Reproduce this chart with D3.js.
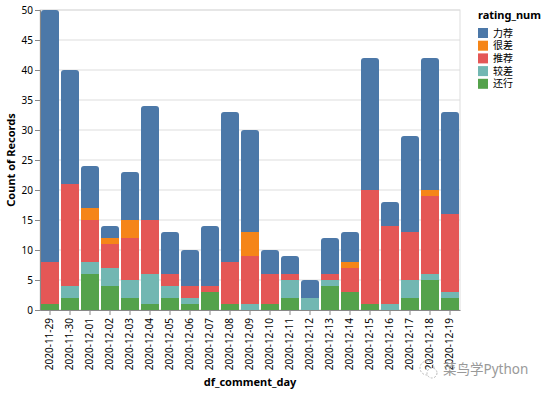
<!DOCTYPE html>
<html>
  <head>
    <meta charset="utf-8">
    <script src="https://d3js.org/d3.v7.min.js"></script>
    <style>
      body { margin: 0; background: #fff; }
      text { font-family: "Noto Sans", "Noto Sans CJK SC", sans-serif; }
    </style>
  </head>
  <body>
    <div id="chart"></div>
    <script>
      // data
      const days = ["2020-11-29","2020-11-30","2020-12-01","2020-12-02","2020-12-03","2020-12-04",
        "2020-12-05","2020-12-06","2020-12-07","2020-12-08","2020-12-09","2020-12-10","2020-12-11",
        "2020-12-12","2020-12-13","2020-12-14","2020-12-15","2020-12-16","2020-12-17","2020-12-18","2020-12-19"];
      const legendOrder = ["力荐", "很差", "推荐", "较差", "还行"];
      const stackOrder = ["还行", "较差", "推荐", "很差", "力荐"]; // bottom to top
      const huanxing = [1,2,6,4,2,1,2,1,3,1,0,1,2,0,4,3,1,0,2,5,2];
      const jiaocha  = [0,2,2,3,3,5,2,1,0,0,1,0,3,2,1,0,0,1,3,1,1];
      const tuijian  = [7,17,7,4,7,9,2,2,1,7,8,5,1,0,1,4,19,13,8,13,13];
      const hencha   = [0,0,2,1,3,0,0,0,0,0,4,0,0,0,0,1,0,0,0,1,0];
      const lijian   = [42,19,7,2,8,19,7,6,10,25,17,4,3,3,6,5,22,4,16,22,17];
      const yTicks = [0,5,10,15,20,25,30,35,40,45,50];

      const seriesValues = {"还行": huanxing, "较差": jiaocha, "推荐": tuijian, "很差": hencha, "力荐": lijian};
      const colors = {"力荐": "#4c78a8", "很差": "#f58518", "推荐": "#e45756", "较差": "#72b7b2", "还行": "#54a24b"};

      const rows = days.map((d, i) => {
        const r = {day: d};
        stackOrder.forEach(k => r[k] = seriesValues[k][i]);
        return r;
      });

      const margin = {top: 10, right: 86, bottom: 83, left: 40},
          width = 546 - margin.left - margin.right,
          height = 393 - margin.top - margin.bottom;

      const svg = d3.select("#chart")
        .append("svg")
          .attr("width", 546)
          .attr("height", 393)
        .append("g")
          .attr("transform", `translate(${margin.left},${margin.top})`);

      const x = d3.scaleBand()
        .domain(days)
        .range([0, width])
        .paddingInner(0.1)
        .paddingOuter(0.05);

      const y = d3.scaleLinear()
        .domain([0, 50])
        .range([height, 0]);

      // grid
      svg.append("g")
        .selectAll("line")
        .data(yTicks)
        .join("line")
          .attr("x1", 0).attr("x2", width)
          .attr("y1", d => y(d)).attr("y2", d => y(d))
          .attr("stroke", "#ddd");

      svg.append("rect")
        .attr("width", width).attr("height", height)
        .attr("fill", "none").attr("stroke", "#ddd");

      // bars
      const stacked = d3.stack().keys(stackOrder)(rows);
      const topKey = stackOrder[stackOrder.length - 1];
      const r = 3;

      stacked.forEach(layer => {
        const g = svg.append("g").attr("fill", colors[layer.key]);
        if (layer.key === topKey) {
          g.selectAll("path")
            .data(layer.filter(d => d[1] > d[0]))
            .join("path")
              .attr("d", d => {
                const x0 = x(d.data.day), w = x.bandwidth();
                const yt = y(d[1]), yb = y(d[0]);
                return `M${x0},${yb}V${yt + r}Q${x0},${yt} ${x0 + r},${yt}H${x0 + w - r}Q${x0 + w},${yt} ${x0 + w},${yt + r}V${yb}Z`;
              });
        } else {
          g.selectAll("rect")
            .data(layer.filter(d => d[1] > d[0]))
            .join("rect")
              .attr("x", d => x(d.data.day))
              .attr("y", d => y(d[1]))
              .attr("width", x.bandwidth())
              .attr("height", d => y(d[0]) - y(d[1]));
        }
      });

      // axes
      const yAxis = svg.append("g")
        .call(d3.axisLeft(y).tickValues(yTicks).tickSize(5).tickPadding(2));
      yAxis.select(".domain").attr("stroke", "#888");
      yAxis.selectAll(".tick line").attr("stroke", "#888");
      yAxis.selectAll("text").attr("fill", "#000").style("font-size", "10px");

      const xAxis = svg.append("g")
        .attr("transform", `translate(0,${height})`)
        .call(d3.axisBottom(x).tickSize(5).tickSizeOuter(0));
      xAxis.select(".domain").attr("stroke", "#888");
      xAxis.selectAll(".tick line").attr("stroke", "#888");
      xAxis.selectAll("text")
        .attr("fill", "#000")
        .style("font-size", "10px")
        .attr("transform", "rotate(-90)")
        .attr("x", -8)
        .attr("y", 0)
        .attr("dy", "0.32em")
        .style("text-anchor", "end");

      svg.append("text")
        .text("Count of Records")
        .attr("transform", `translate(-25,${height / 2})rotate(-90)`)
        .attr("text-anchor", "middle")
        .style("font-size", "11px")
        .style("font-weight", "bold");

      svg.append("text")
        .text("df_comment_day")
        .attr("x", width / 2)
        .attr("y", height + 76)
        .attr("text-anchor", "middle")
        .style("font-size", "11px")
        .style("font-weight", "bold");

      // legend
      const legend = svg.append("g").attr("transform", `translate(${width + 18},0)`);
      legend.append("text")
        .text("rating_num")
        .attr("x", 0).attr("y", 9)
        .style("font-size", "11px")
        .style("font-weight", "bold");
      const item = legend.selectAll("g.item")
        .data(legendOrder)
        .join("g")
          .attr("class", "item")
          .attr("transform", (d, i) => `translate(0,${18 + i * 12.7})`);
      item.append("rect")
        .attr("width", 10).attr("height", 10)
        .attr("fill", d => colors[d]);
      item.append("text")
        .text(d => d)
        .attr("x", 15).attr("y", 5).attr("dy", "0.35em")
        .style("font-size", "10px")
        .attr("fill", "#000");

      // watermark
      const wm = d3.select("svg").append("g").attr("transform", "translate(427,369)");
      wm.append("circle").attr("r", 7).attr("cx", 0).attr("cy", -1)
        .attr("fill", "none").attr("stroke", "#bbb").attr("stroke-dasharray", "2,1.5");
      wm.append("circle").attr("r", 5).attr("cx", 5).attr("cy", 4)
        .attr("fill", "#fff").attr("stroke", "#bbb").attr("stroke-dasharray", "2,1.5");
      wm.append("text").text("菜鸟学Python")
        .attr("x", 16).attr("y", 0).attr("dy", "0.35em")
        .attr("fill", "#999")
        .style("font-size", "13.5px");
    </script>
  </body>
</html>
